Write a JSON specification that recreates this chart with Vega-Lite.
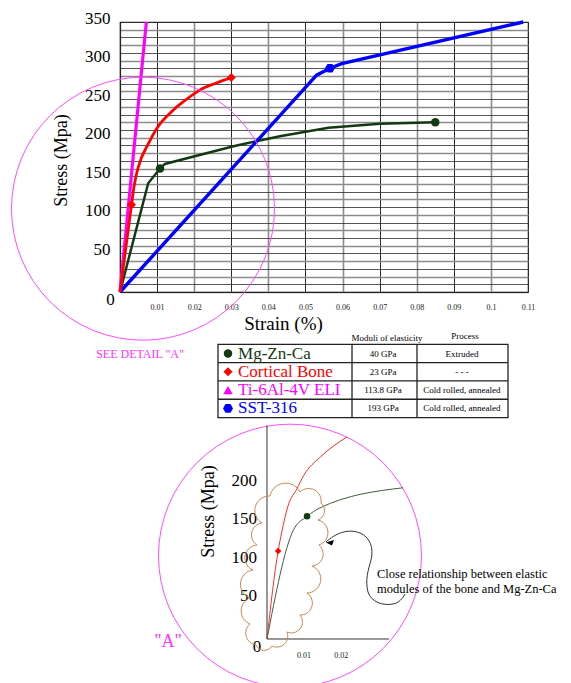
{
  "$schema": "https://vega.github.io/schema/vega-lite/v6.json",
  "width": 408,
  "height": 270,
  "autosize": {"type": "none"},
  "padding": {"left": 120, "top": 22, "right": 43, "bottom": 391},
  "background": "white",
  "config": {
    "font": "Liberation Serif",
    "view": {"stroke": "#333333", "strokeWidth": 1.2},
    "text": {"font": "Liberation Serif", "color": "black"},
    "axis": {"labelFont": "Liberation Serif", "titleFont": "Liberation Serif"}
  },
  "datasets": {
    "curves": [
      {"material": "Mg-Zn-Ca", "strain": 0, "stress": 0},
      {"material": "Mg-Zn-Ca", "strain": 0.0076, "stress": 141},
      {"material": "Mg-Zn-Ca", "strain": 0.0108, "stress": 160},
      {"material": "Mg-Zn-Ca", "strain": 0.0121, "stress": 166},
      {"material": "Mg-Zn-Ca", "strain": 0.0306, "stress": 189},
      {"material": "Mg-Zn-Ca", "strain": 0.0431, "stress": 202},
      {"material": "Mg-Zn-Ca", "strain": 0.0562, "stress": 213},
      {"material": "Mg-Zn-Ca", "strain": 0.0701, "stress": 218},
      {"material": "Mg-Zn-Ca", "strain": 0.085, "stress": 220},
      {"material": "SST-316", "strain": 0, "stress": 0},
      {"material": "SST-316", "strain": 0.053, "stress": 281},
      {"material": "SST-316", "strain": 0.0566, "stress": 290},
      {"material": "SST-316", "strain": 0.0598, "stress": 296},
      {"material": "SST-316", "strain": 0.1087, "stress": 350},
      {"material": "Ti-6Al-4V ELI", "strain": 0, "stress": 0},
      {"material": "Ti-6Al-4V ELI", "strain": 0.0071, "stress": 350},
      {"material": "Cortical Bone", "strain": 0, "stress": 0},
      {"material": "Cortical Bone", "strain": 0.0031, "stress": 113},
      {"material": "Cortical Bone", "strain": 0.0038, "stress": 137},
      {"material": "Cortical Bone", "strain": 0.0045, "stress": 154},
      {"material": "Cortical Bone", "strain": 0.0057, "stress": 173},
      {"material": "Cortical Bone", "strain": 0.0072, "stress": 188},
      {"material": "Cortical Bone", "strain": 0.0099, "stress": 212},
      {"material": "Cortical Bone", "strain": 0.0144, "stress": 236},
      {"material": "Cortical Bone", "strain": 0.018, "stress": 250},
      {"material": "Cortical Bone", "strain": 0.0216, "stress": 262},
      {"material": "Cortical Bone", "strain": 0.026, "stress": 271},
      {"material": "Cortical Bone", "strain": 0.03, "stress": 278}
    ],
    "markers": [
      {"material": "Mg-Zn-Ca", "strain": 0.0108, "stress": 160},
      {"material": "Mg-Zn-Ca", "strain": 0.085, "stress": 220},
      {"material": "Cortical Bone", "strain": 0.0031, "stress": 113},
      {"material": "Cortical Bone", "strain": 0.03, "stress": 278},
      {"material": "SST-316", "strain": 0.0566, "stress": 290}
    ],
    "detail_region": [{"strain": 0.0062, "stress": 108}],
    "detail_curves": [
      {"material": "Cortical Bone", "strain": 0, "stress": 0},
      {"material": "Cortical Bone", "strain": 0.003, "stress": 114},
      {"material": "Cortical Bone", "strain": 0.004, "stress": 139},
      {"material": "Cortical Bone", "strain": 0.0057, "stress": 173},
      {"material": "Cortical Bone", "strain": 0.0081, "stress": 195},
      {"material": "Cortical Bone", "strain": 0.0099, "stress": 212},
      {"material": "Cortical Bone", "strain": 0.0144, "stress": 236},
      {"material": "Cortical Bone", "strain": 0.0216, "stress": 262},
      {"material": "Mg-Zn-Ca", "strain": 0, "stress": 0},
      {"material": "Mg-Zn-Ca", "strain": 0.0071, "stress": 141},
      {"material": "Mg-Zn-Ca", "strain": 0.0108, "stress": 159},
      {"material": "Mg-Zn-Ca", "strain": 0.0143, "stress": 170},
      {"material": "Mg-Zn-Ca", "strain": 0.0367, "stress": 196}
    ],
    "detail_markers": [
      {"material": "Cortical Bone", "strain": 0.003, "stress": 114},
      {"material": "Mg-Zn-Ca", "strain": 0.0108, "stress": 159}
    ],
    "detail_yticks": [{"stress": 50}, {"stress": 100}, {"stress": 150}, {"stress": 200}],
    "detail_xticks": [{"strain": 0.01}, {"strain": 0.02}],
    "materials": [
      {"row": 1, "material": "Mg-Zn-Ca", "modulus": "40 GPa", "process": "Extruded"},
      {"row": 2, "material": "Cortical Bone", "modulus": "23 GPa", "process": "- - -"},
      {"row": 3, "material": "Ti-6Al-4V ELI", "modulus": "113.8 GPa", "process": "Cold rolled, annealed"},
      {"row": 4, "material": "SST-316", "modulus": "193 GPa", "process": "Cold rolled, annealed"}
    ]
  },
  "resolve": {"scale": {"x": "independent", "y": "independent"}},
  "layer": [
    {
      "layer": [
        {
          "data": {"name": "curves"},
          "transform": [{"filter": "datum.material !== 'Cortical Bone'"}],
          "mark": {"type": "line", "interpolate": "linear"},
          "encoding": {
            "x": {
              "field": "strain", "type": "quantitative",
              "scale": {"domain": [0, 0.11]},
              "axis": {
                "values": [0.01, 0.02, 0.03, 0.04, 0.05, 0.06, 0.07, 0.08, 0.09, 0.1, 0.11],
                "tickCount": 100,
                "format": ".2~f",
                "title": "Strain (%)",
                "titleFontSize": 19, "titleFontWeight": "normal", "titleColor": "black",
                "titleX": 163, "titleY": 31, "titleAlign": "center", "titleBaseline": "middle",
                "labelFontSize": 8, "labelColor": "#222222", "labelPadding": 11,
                "labelFlush": false, "labelOverlap": false,
                "ticks": false, "tickSize": 0,
                "domainColor": "#222222", "domainWidth": 1.2,
                "grid": true,
                "gridColor": {"condition": {"test": "round(datum.value*100) % 2 === 1", "value": "#2b2b2b"}, "value": "#8c8c8c"},
                "gridWidth": {"condition": {"test": "round(datum.value*100) % 2 === 1", "value": 1}, "value": 1.6}
              }
            },
            "y": {
              "field": "stress", "type": "quantitative",
              "scale": {"domain": [0, 350]},
              "axis": {
                "values": [0, 10, 20, 30, 40, 50, 60, 70, 80, 90, 100, 110, 120, 130, 140, 150, 160, 170, 180, 190, 200, 210, 220, 230, 240, 250, 260, 270, 280, 290, 300, 310, 320, 330, 340, 350],
                "tickCount": 100,
                "labelExpr": "datum.value % 50 === 0 ? datum.label : ''",
                "title": "Stress  (Mpa)",
                "titleFontSize": 18, "titleFontWeight": "normal", "titleColor": "black",
                "titleX": -59, "titleY": 138, "titleAngle": 270, "titleAlign": "center", "titleBaseline": "middle",
                "labelFontSize": 17, "labelColor": "black", "labelPadding": 10,
                "labelFlush": false, "labelOverlap": false,
                "labelAlign": {"condition": {"test": "datum.value === 0", "value": "center"}, "value": "right"},
                "labelOffset": {"condition": {"test": "datum.value === 0", "value": 7}, "value": -4},
                "ticks": false, "tickSize": 0,
                "domainColor": "#222222", "domainWidth": 1.2,
                "grid": true,
                "gridColor": {"condition": {"test": "datum.value % 20 === 0", "value": "#8c8c8c"}, "value": "#2b2b2b"},
                "gridWidth": {"condition": {"test": "datum.value % 20 === 0", "value": 1.5}, "value": 0.8}
              }
            },
            "color": {
              "field": "material", "type": "nominal", "legend": null,
              "scale": {"domain": ["Mg-Zn-Ca", "Cortical Bone", "Ti-6Al-4V ELI", "SST-316"], "range": ["#123a12", "#ff0000", "#ff00ff", "#0000ff"]}
            },
            "strokeWidth": {
              "field": "material", "type": "nominal", "legend": null,
              "scale": {"domain": ["Mg-Zn-Ca", "Cortical Bone", "Ti-6Al-4V ELI", "SST-316"], "range": [2.5, 3.4, 3, 3]}
            }
          }
        },
        {
          "data": {"name": "curves"},
          "transform": [{"filter": "datum.material === 'Cortical Bone'"}],
          "mark": {"type": "line", "interpolate": "monotone"},
          "encoding": {
            "x": {"field": "strain", "type": "quantitative", "scale": {"domain": [0, 0.11]}},
            "y": {"field": "stress", "type": "quantitative", "scale": {"domain": [0, 350]}},
            "color": {"field": "material", "type": "nominal", "legend": null},
            "strokeWidth": {"field": "material", "type": "nominal", "legend": null}
          }
        },
        {
          "data": {"name": "markers"},
          "mark": {"type": "point", "filled": true, "opacity": 1},
          "encoding": {
            "x": {"field": "strain", "type": "quantitative", "scale": {"domain": [0, 0.11]}},
            "y": {"field": "stress", "type": "quantitative", "scale": {"domain": [0, 350]}},
            "color": {"field": "material", "type": "nominal", "legend": null},
            "shape": {
              "field": "material", "type": "nominal", "legend": null,
              "scale": {"domain": ["Mg-Zn-Ca", "Cortical Bone", "Ti-6Al-4V ELI", "SST-316"], "range": ["circle", "diamond", "triangle-up", "M-1,0L-0.5,-0.866L0.5,-0.866L1,0L0.5,0.866L-0.5,0.866Z"]}
            },
            "size": {
              "field": "material", "type": "nominal", "legend": null,
              "scale": {"domain": ["Mg-Zn-Ca", "Cortical Bone", "Ti-6Al-4V ELI", "SST-316"], "range": [72, 100, 100, 185]}
            }
          }
        },
        {
          "data": {"name": "detail_region"},
          "mark": {"type": "point", "shape": "circle", "filled": false, "size": 69169, "stroke": "#ff4dff", "strokeWidth": 1, "opacity": 1},
          "encoding": {
            "x": {"field": "strain", "type": "quantitative", "scale": {"domain": [0, 0.11]}},
            "y": {"field": "stress", "type": "quantitative", "scale": {"domain": [0, 350]}}
          }
        },
        {
          "data": {"values": [{}]},
          "mark": {"type": "text", "text": "SEE DETAIL \"A\"", "fontSize": 12, "color": "#ff33ff", "align": "center", "baseline": "middle"},
          "encoding": {
            "x": {"datum": 0.0054, "type": "quantitative", "scale": {"domain": [0, 0.11]}},
            "y": {"datum": -80.4, "type": "quantitative", "scale": {"domain": [0, 350]}}
          }
        }
      ]
    },
    {
      "layer": [
        {
          "data": {"name": "detail_region"},
          "mark": {"type": "point", "shape": "circle", "filled": false, "size": 69169, "stroke": "#ff4dff", "strokeWidth": 1, "opacity": 1},
          "encoding": {
            "x": {"field": "strain", "type": "quantitative", "scale": {"domain": [-0.03963, 0.07037]}, "axis": null},
            "y": {"field": "stress", "type": "quantitative", "scale": {"domain": [449.8, 799.8]}, "axis": null}
          }
        },
        {
          "data": {"values": [{}]},
          "mark": {"type": "rule", "color": "#333333", "strokeWidth": 1},
          "encoding": {
            "x": {"datum": 0, "type": "quantitative", "scale": {"domain": [-0.03963, 0.07037]}, "axis": null},
            "y": {"datum": 0, "type": "quantitative", "scale": {"domain": [449.8, 799.8]}, "axis": null},
            "y2": {"datum": 277}
          }
        },
        {
          "data": {"values": [{}]},
          "mark": {"type": "rule", "color": "#333333", "strokeWidth": 1},
          "encoding": {
            "x": {"datum": 0, "type": "quantitative", "scale": {"domain": [-0.03963, 0.07037]}, "axis": null},
            "x2": {"datum": 0.0329},
            "y": {"datum": 0, "type": "quantitative", "scale": {"domain": [449.8, 799.8]}, "axis": null}
          }
        },
        {
          "data": {"name": "detail_curves"},
          "mark": {"type": "line", "interpolate": "monotone", "strokeWidth": 1},
          "encoding": {
            "x": {"field": "strain", "type": "quantitative", "scale": {"domain": [-0.03963, 0.07037]}, "axis": null},
            "y": {"field": "stress", "type": "quantitative", "scale": {"domain": [449.8, 799.8]}, "axis": null},
            "stroke": {
              "field": "material", "type": "nominal", "legend": null,
              "scale": {"domain": ["Mg-Zn-Ca", "Cortical Bone"], "range": ["#3f5f3f", "#ff2a2a"]}
            }
          }
        },
        {
          "data": {"name": "detail_markers"},
          "mark": {"type": "point", "filled": true, "opacity": 1, "size": 42},
          "encoding": {
            "x": {"field": "strain", "type": "quantitative", "scale": {"domain": [-0.03963, 0.07037]}, "axis": null},
            "y": {"field": "stress", "type": "quantitative", "scale": {"domain": [449.8, 799.8]}, "axis": null},
            "color": {"field": "material", "type": "nominal", "legend": null},
            "shape": {"field": "material", "type": "nominal", "legend": null}
          }
        },
        {
          "data": {"name": "detail_yticks"},
          "mark": {"type": "text", "fontSize": 17, "align": "right", "baseline": "middle", "dx": -10, "dy": -4},
          "encoding": {
            "x": {"datum": 0, "type": "quantitative", "scale": {"domain": [-0.03963, 0.07037]}, "axis": null},
            "y": {"field": "stress", "type": "quantitative", "scale": {"domain": [449.8, 799.8]}, "axis": null},
            "text": {"field": "stress", "type": "quantitative"}
          }
        },
        {
          "data": {"values": [{}]},
          "mark": {"type": "text", "text": "0", "fontSize": 17, "align": "center", "baseline": "middle", "dx": -10, "dy": 8},
          "encoding": {
            "x": {"datum": 0, "type": "quantitative", "scale": {"domain": [-0.03963, 0.07037]}, "axis": null},
            "y": {"datum": 0, "type": "quantitative", "scale": {"domain": [449.8, 799.8]}, "axis": null}
          }
        },
        {
          "data": {"name": "detail_xticks"},
          "mark": {"type": "text", "fontSize": 8, "align": "center", "baseline": "middle", "dy": 17, "color": "#222222"},
          "encoding": {
            "x": {"field": "strain", "type": "quantitative", "scale": {"domain": [-0.03963, 0.07037]}, "axis": null},
            "y": {"datum": 0, "type": "quantitative", "scale": {"domain": [449.8, 799.8]}, "axis": null},
            "text": {"field": "strain", "type": "quantitative", "format": ".2f"}
          }
        },
        {
          "data": {"values": [{}]},
          "mark": {"type": "text", "text": "Stress  (Mpa)", "fontSize": 18, "angle": 270, "align": "center", "baseline": "middle"},
          "encoding": {
            "x": {"datum": -0.01564, "type": "quantitative", "scale": {"domain": [-0.03963, 0.07037]}, "axis": null},
            "y": {"datum": 165.3, "type": "quantitative", "scale": {"domain": [449.8, 799.8]}, "axis": null}
          }
        },
        {
          "data": {"values": [{}]},
          "mark": {
            "type": "point", "filled": false, "size": 4, "opacity": 1, "stroke": "#c8894d", "strokeWidth": 1,
            "shape": "M-14,-74A16,16 0 0 1 16,-78A12.5,12.5 0 0 1 37,-67A10,10 0 0 1 34,-50A13,13 0 0 1 35,-25A12,12 0 0 1 28,-4A14,14 0 0 1 23,23A12,12 0 0 1 16,45A11,11 0 0 1 3,62A11,11 0 0 1 -12,76A9,9 0 0 1 -28,75A12,12 0 0 1 -34,54A14,14 0 0 1 -34,28A14.5,14.5 0 0 1 -31,0A13,13 0 0 1 -27,-25A12,12 0 0 1 -22,-47A14.5,14.5 0 0 1 -14,-74Z"
          },
          "encoding": {
            "x": {"datum": 0.004583, "type": "quantitative", "scale": {"domain": [-0.03963, 0.07037]}, "axis": null},
            "y": {"datum": 89.44, "type": "quantitative", "scale": {"domain": [449.8, 799.8]}, "axis": null}
          }
        },
        {
          "data": {"values": [{}]},
          "mark": {
            "type": "point", "filled": false, "size": 4, "opacity": 1, "stroke": "#333333", "strokeWidth": 1,
            "shape": "M-39,-26C-30,-34 -18,-40 -5,-35C5,-31 9,-20 6,-8C3,3 0,12 3,24C6,34 18,38 28,36C34,35 38,30 40,26"
          },
          "encoding": {
            "x": {"datum": 0.026422, "type": "quantitative", "scale": {"domain": [-0.03963, 0.07037]}, "axis": null},
            "y": {"datum": 92.04, "type": "quantitative", "scale": {"domain": [449.8, 799.8]}, "axis": null}
          }
        },
        {
          "data": {"values": [{}]},
          "mark": {"type": "point", "filled": true, "opacity": 1, "color": "black", "size": 4, "shape": "M0,0L8,-2.5L6,3Z"},
          "encoding": {
            "x": {"datum": 0.0159, "type": "quantitative", "scale": {"domain": [-0.03963, 0.07037]}, "axis": null},
            "y": {"datum": 125, "type": "quantitative", "scale": {"domain": [449.8, 799.8]}, "axis": null}
          }
        },
        {
          "data": {"values": [{}]},
          "mark": {"type": "text", "text": ["Close relationship between elastic", "modules of the bone and Mg-Zn-Ca"], "fontSize": 12.5, "lineHeight": 15, "align": "left", "baseline": "top"},
          "encoding": {
            "x": {"datum": 0.02966, "type": "quantitative", "scale": {"domain": [-0.03963, 0.07037]}, "axis": null},
            "y": {"datum": 92, "type": "quantitative", "scale": {"domain": [449.8, 799.8]}, "axis": null}
          }
        },
        {
          "data": {"values": [{}]},
          "mark": {"type": "text", "text": "\"A\"", "fontSize": 18, "align": "center", "baseline": "middle", "color": "#ff33ff"},
          "encoding": {
            "x": {"datum": -0.02669, "type": "quantitative", "scale": {"domain": [-0.03963, 0.07037]}, "axis": null},
            "y": {"datum": -3.9, "type": "quantitative", "scale": {"domain": [449.8, 799.8]}, "axis": null}
          }
        }
      ]
    },
    {
      "layer": [
        {
          "data": {"values": [{}]},
          "mark": {"type": "rect", "filled": false, "stroke": "#222222", "strokeWidth": 1.3, "fill": null},
          "encoding": {
            "x": {"datum": 0, "type": "quantitative", "scale": {"domain": [-0.33793, 1.06897]}, "axis": null},
            "x2": {"datum": 1},
            "y": {"datum": 0.5, "type": "quantitative", "scale": {"domain": [-17.1148, -2.3607], "reverse": true}, "axis": null},
            "y2": {"datum": 4.5}
          }
        },
        {
          "data": {"values": [{}]},
          "mark": {"type": "rule", "color": "#222222", "strokeWidth": 1.3},
          "encoding": {
            "x": {"datum": 0.4621, "type": "quantitative", "scale": {"domain": [-0.33793, 1.06897]}, "axis": null},
            "y": {"datum": 0.5, "type": "quantitative", "scale": {"domain": [-17.1148, -2.3607], "reverse": true}, "axis": null},
            "y2": {"datum": 4.5}
          }
        },
        {
          "data": {"values": [{}]},
          "mark": {"type": "rule", "color": "#222222", "strokeWidth": 1.3},
          "encoding": {
            "x": {"datum": 0.6862, "type": "quantitative", "scale": {"domain": [-0.33793, 1.06897]}, "axis": null},
            "y": {"datum": 0.5, "type": "quantitative", "scale": {"domain": [-17.1148, -2.3607], "reverse": true}, "axis": null},
            "y2": {"datum": 4.5}
          }
        },
        {
          "data": {"name": "materials"},
          "transform": [{"filter": "datum.row > 1"}],
          "mark": {"type": "rule", "color": "#222222", "strokeWidth": 1.3, "yOffset": -9.15},
          "encoding": {
            "x": {"datum": 0, "type": "quantitative", "scale": {"domain": [-0.33793, 1.06897]}, "axis": null},
            "x2": {"datum": 1},
            "y": {"field": "row", "type": "quantitative", "scale": {"domain": [-17.1148, -2.3607], "reverse": true}, "axis": null}
          }
        },
        {
          "data": {"name": "materials"},
          "mark": {"type": "point", "filled": true, "opacity": 1},
          "encoding": {
            "x": {"datum": 0.0345, "type": "quantitative", "scale": {"domain": [-0.33793, 1.06897]}, "axis": null},
            "y": {"field": "row", "type": "quantitative", "scale": {"domain": [-17.1148, -2.3607], "reverse": true}, "axis": null},
            "color": {"field": "material", "type": "nominal", "legend": null},
            "shape": {"field": "material", "type": "nominal", "legend": null},
            "size": {"field": "material", "type": "nominal", "legend": null}
          }
        },
        {
          "data": {"name": "materials"},
          "mark": {"type": "text", "fontSize": 17, "align": "left", "baseline": "middle"},
          "encoding": {
            "x": {"datum": 0.069, "type": "quantitative", "scale": {"domain": [-0.33793, 1.06897]}, "axis": null},
            "y": {"field": "row", "type": "quantitative", "scale": {"domain": [-17.1148, -2.3607], "reverse": true}, "axis": null},
            "text": {"field": "material", "type": "nominal"},
            "color": {"field": "material", "type": "nominal", "legend": null}
          }
        },
        {
          "data": {"name": "materials"},
          "mark": {"type": "text", "fontSize": 9, "align": "center", "baseline": "middle"},
          "encoding": {
            "x": {"datum": 0.569, "type": "quantitative", "scale": {"domain": [-0.33793, 1.06897]}, "axis": null},
            "y": {"field": "row", "type": "quantitative", "scale": {"domain": [-17.1148, -2.3607], "reverse": true}, "axis": null},
            "text": {"field": "modulus", "type": "nominal"}
          }
        },
        {
          "data": {"name": "materials"},
          "mark": {"type": "text", "fontSize": 9, "align": "center", "baseline": "middle"},
          "encoding": {
            "x": {"datum": 0.841, "type": "quantitative", "scale": {"domain": [-0.33793, 1.06897]}, "axis": null},
            "y": {"field": "row", "type": "quantitative", "scale": {"domain": [-17.1148, -2.3607], "reverse": true}, "axis": null},
            "text": {"field": "process", "type": "nominal"}
          }
        },
        {
          "data": {"values": [{}]},
          "mark": {"type": "text", "text": "Moduli of elasticity", "fontSize": 9, "align": "center", "baseline": "middle", "dy": 3},
          "encoding": {
            "x": {"datum": 0.583, "type": "quantitative", "scale": {"domain": [-0.33793, 1.06897]}, "axis": null},
            "y": {"datum": 0, "type": "quantitative", "scale": {"domain": [-17.1148, -2.3607], "reverse": true}, "axis": null}
          }
        },
        {
          "data": {"values": [{}]},
          "mark": {"type": "text", "text": "Process", "fontSize": 9, "align": "center", "baseline": "middle", "dy": 1},
          "encoding": {
            "x": {"datum": 0.852, "type": "quantitative", "scale": {"domain": [-0.33793, 1.06897]}, "axis": null},
            "y": {"datum": 0, "type": "quantitative", "scale": {"domain": [-17.1148, -2.3607], "reverse": true}, "axis": null}
          }
        }
      ]
    }
  ]
}
